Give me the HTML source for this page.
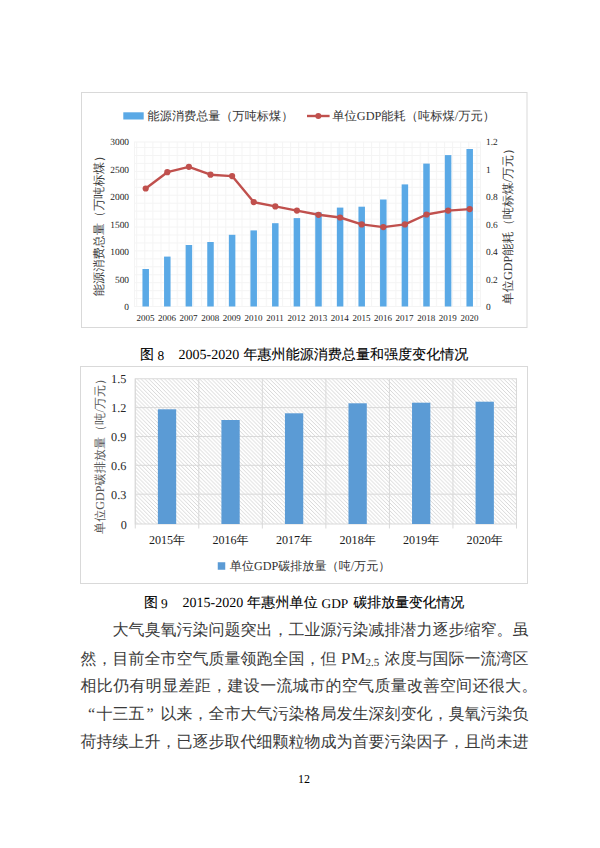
<!DOCTYPE html>
<html><head><meta charset="utf-8">
<style>
html,body{margin:0;padding:0;background:#fff;}
body{width:600px;height:848px;position:relative;overflow:hidden;text-rendering:geometricPrecision;font-family:"Liberation Serif",serif;color:#000;}
.abs{position:absolute;white-space:nowrap;}
svg{position:absolute;left:0;top:0;}
svg text{font-family:"Liberation Serif",serif;text-rendering:geometricPrecision;}
.c14{font-size:14px;line-height:20px;color:#000;-webkit-text-stroke:0.12px #000;}
.c13{font-size:13.4px;line-height:20px;color:#000;}
.body{position:absolute;left:80.5px;font-size:16px;line-height:20px;color:#3a3a3a;white-space:nowrap;}
.q{display:inline-block;width:16px;letter-spacing:0;}
.lat{font-size:17px;}
</style></head><body>

<svg width="600" height="848" viewBox="0 0 600 848">
  <defs>
    <pattern id="grid1" x="136.2" y="139.1" width="8.1" height="7.95" patternUnits="userSpaceOnUse">
      <path d="M0 0.5H8.1M0.5 0V7.95" stroke="#f4f4f4" stroke-width="1" fill="none"/>
    </pattern>
    <pattern id="hatch" x="0" y="0" width="3.9" height="3.9" patternUnits="userSpaceOnUse">
      <path d="M-1 -1L4.9 4.9M-1 2.9L1 4.9M2.9 -1L4.9 1" stroke="#d2d2d2" stroke-width="0.9" fill="none"/>
    </pattern>
  </defs>

  <!-- ===== Chart 1 ===== -->
  <rect x="81.5" y="92.5" width="445.5" height="235" fill="#fff" stroke="#d9d9d9" stroke-width="1"/>
  <rect x="134.5" y="142" width="346" height="164.5" fill="url(#grid1)" stroke="#f4f4f4" stroke-width="1"/>
  <!-- legend -->
  <rect x="123.3" y="112.3" width="20.4" height="7.2" fill="#5aa9e6"/>
  <text x="147.6" y="120.2" font-size="12.15" fill="#333">能源消费总量（万吨标煤）</text>
  <line x1="307" y1="116" x2="329.6" y2="116" stroke="#c0504d" stroke-width="2.4"/>
  <circle cx="318.3" cy="116" r="3" fill="#c0504d"/>
  <text x="332.3" y="120.2" font-size="12.25" fill="#333">单位GDP能耗（吨标煤/万元）</text>
  <!-- left axis labels -->
  <g font-size="9.4" fill="#262626" text-anchor="end">
    <text x="129" y="145.3">3000</text>
    <text x="129" y="172.8">2500</text>
    <text x="129" y="200.3">2000</text>
    <text x="129" y="227.8">1500</text>
    <text x="129" y="255.3">1000</text>
    <text x="129" y="282.8">500</text>
    <text x="129" y="310.3">0</text>
  </g>
  <g font-size="9.4" fill="#262626" text-anchor="start">
    <text x="486" y="145.3">1.2</text>
    <text x="486" y="172.8">1</text>
    <text x="486" y="200.3">0.8</text>
    <text x="486" y="227.8">0.6</text>
    <text x="486" y="255.3">0.4</text>
    <text x="486" y="282.8">0.2</text>
    <text x="486" y="310.3">0</text>
  </g>
  <text transform="translate(103,223) rotate(-90)" text-anchor="middle" font-size="12.2" fill="#404040">能源消费总量（万吨标煤）</text>
  <text transform="translate(512.3,223.5) rotate(-90)" text-anchor="middle" font-size="12.2" fill="#404040">单位GDP能耗（吨标煤/万元）</text>
  <!-- bars -->
  <g fill="#5aa9e6">
    <rect x="142.45" y="269.0" width="6.5" height="37.5"/>
    <rect x="164.05" y="256.6" width="6.5" height="49.9"/>
    <rect x="185.65" y="245.0" width="6.5" height="61.5"/>
    <rect x="207.25" y="242.0" width="6.5" height="64.5"/>
    <rect x="228.85" y="234.8" width="6.5" height="71.7"/>
    <rect x="250.45" y="230.4" width="6.5" height="76.1"/>
    <rect x="272.05" y="223.2" width="6.5" height="83.3"/>
    <rect x="293.65" y="218.1" width="6.5" height="88.4"/>
    <rect x="315.25" y="212.4" width="6.5" height="94.1"/>
    <rect x="336.85" y="207.6" width="6.5" height="98.9"/>
    <rect x="358.45" y="206.7" width="6.5" height="99.8"/>
    <rect x="380.05" y="199.5" width="6.5" height="107.0"/>
    <rect x="401.65" y="184.4" width="6.5" height="122.1"/>
    <rect x="423.25" y="163.6" width="6.5" height="142.9"/>
    <rect x="444.85" y="155.1" width="6.5" height="151.4"/>
    <rect x="466.45" y="149.0" width="6.5" height="157.5"/>
  </g>
  <!-- x labels -->
  <g font-size="9" fill="#262626" text-anchor="middle">
    <text x="145.40" y="321">2005</text>
    <text x="167.00" y="321">2006</text>
    <text x="188.60" y="321">2007</text>
    <text x="210.20" y="321">2008</text>
    <text x="231.80" y="321">2009</text>
    <text x="253.40" y="321">2010</text>
    <text x="275.00" y="321">2011</text>
    <text x="296.60" y="321">2012</text>
    <text x="318.20" y="321">2013</text>
    <text x="339.80" y="321">2014</text>
    <text x="361.40" y="321">2015</text>
    <text x="383.00" y="321">2016</text>
    <text x="404.60" y="321">2017</text>
    <text x="426.20" y="321">2018</text>
    <text x="447.80" y="321">2019</text>
    <text x="469.40" y="321">2020</text>
  </g>
  <polyline points="145.70,188.5 167.30,172.2 188.90,166.8 210.50,174.7 232.10,176.1 253.70,202.1 275.30,206.4 296.90,210.6 318.50,214.8 340.10,217.5 361.70,224.4 383.30,227.1 404.90,224.4 426.50,214.5 448.10,210.6 469.70,209.1" fill="none" stroke="#c0504d" stroke-width="2.4" stroke-linejoin="round"/>
  <g fill="#c0504d">
    <circle cx="145.70" cy="188.5" r="3.1"/>
    <circle cx="167.30" cy="172.2" r="3.1"/>
    <circle cx="188.90" cy="166.8" r="3.1"/>
    <circle cx="210.50" cy="174.7" r="3.1"/>
    <circle cx="232.10" cy="176.1" r="3.1"/>
    <circle cx="253.70" cy="202.1" r="3.1"/>
    <circle cx="275.30" cy="206.4" r="3.1"/>
    <circle cx="296.90" cy="210.6" r="3.1"/>
    <circle cx="318.50" cy="214.8" r="3.1"/>
    <circle cx="340.10" cy="217.5" r="3.1"/>
    <circle cx="361.70" cy="224.4" r="3.1"/>
    <circle cx="383.30" cy="227.1" r="3.1"/>
    <circle cx="404.90" cy="224.4" r="3.1"/>
    <circle cx="426.50" cy="214.5" r="3.1"/>
    <circle cx="448.10" cy="210.6" r="3.1"/>
    <circle cx="469.70" cy="209.1" r="3.1"/>
  </g>

  <!-- ===== Chart 2 ===== -->
  <rect x="80.5" y="366.5" width="447" height="217" fill="#fff" stroke="#d9d9d9" stroke-width="1"/>
  <rect x="135.25" y="378.75" width="381.25" height="145.25" fill="url(#hatch)"/>
  <g stroke="#d9d9d9" stroke-width="1" fill="none">
    <line x1="135.25" y1="407.6" x2="516.5" y2="407.6"/>
    <line x1="135.25" y1="436.5" x2="516.5" y2="436.5"/>
    <line x1="135.25" y1="465.3" x2="516.5" y2="465.3"/>
    <line x1="135.25" y1="494.2" x2="516.5" y2="494.2"/>
    <rect x="135.25" y="378.75" width="381.25" height="145.25"/>
    <line x1="135.25" y1="378.75" x2="135.25" y2="528.5"/>
    <line x1="198.79" y1="378.75" x2="198.79" y2="528.5"/>
    <line x1="262.33" y1="378.75" x2="262.33" y2="528.5"/>
    <line x1="325.87" y1="378.75" x2="325.87" y2="528.5"/>
    <line x1="389.41" y1="378.75" x2="389.41" y2="528.5"/>
    <line x1="452.95" y1="378.75" x2="452.95" y2="528.5"/>
    <line x1="516.49" y1="378.75" x2="516.49" y2="528.5"/>
  </g>
  <g fill="#5b9bd5">
    <rect x="157.87" y="409.3" width="18.3" height="114.7"/>
    <rect x="221.41" y="420.0" width="18.3" height="104.0"/>
    <rect x="284.95" y="413.3" width="18.3" height="110.7"/>
    <rect x="348.49" y="403.3" width="18.3" height="120.7"/>
    <rect x="412.03" y="402.7" width="18.3" height="121.3"/>
    <rect x="475.57" y="401.7" width="18.3" height="122.3"/>
  </g>
  <g font-size="12.2" fill="#262626" text-anchor="end">
    <text x="126.3" y="382.5">1.5</text>
    <text x="126.3" y="411.7">1.2</text>
    <text x="126.3" y="440.9">0.9</text>
    <text x="126.3" y="470.2">0.6</text>
    <text x="126.3" y="499.4">0.3</text>
    <text x="126.8" y="528.6">0</text>
  </g>
  <text transform="translate(104,453.4) rotate(-90)" text-anchor="middle" font-size="12.15" fill="#595959">单位GDP碳排放量（吨/万元）</text>
  <g font-size="12.1" fill="#1a1a1a" text-anchor="middle">
    <text x="167.02" y="544">2015年</text>
    <text x="230.56" y="544">2016年</text>
    <text x="294.10" y="544">2017年</text>
    <text x="357.64" y="544">2018年</text>
    <text x="421.18" y="544">2019年</text>
    <text x="484.72" y="544">2020年</text>
  </g>
  <rect x="217.75" y="562.25" width="7.5" height="7.5" fill="#5b9bd5"/>
  <text x="229.8" y="570.4" font-size="12.1" fill="#333">单位GDP碳排放量（吨/万元）</text>
</svg>

<div class="abs c14" style="left:140px;top:346px;">图</div>
<div class="abs c13" style="left:157.5px;top:346px;">8</div>
<div class="abs c13" style="left:178.5px;top:345.5px;font-size:14px">2005-2020</div>
<div class="abs c14" style="left:243.5px;top:346px;letter-spacing:0.05px">年惠州能源消费总量和强度变化情况</div>

<div class="abs c14" style="left:144px;top:593.8px;">图</div>
<div class="abs c13" style="left:161px;top:594px;">9</div>
<div class="abs c13" style="left:182.5px;top:593.5px;font-size:14px">2015-2020</div>
<div class="abs c14" style="left:247px;top:593.8px;letter-spacing:0.2px">年惠州单位</div>
<div class="abs c13" style="left:321.5px;top:594px;">GDP</div>
<div class="abs c14" style="left:353.5px;top:593.8px;letter-spacing:-0.18px">碳排放量变化情况</div>

<div class="body" style="top:621px;"><span class="q" style="width:32px"></span>大气臭氧污染问题突出，工业源污染减排潜力逐步缩窄。虽</div>
<div class="body" style="top:649px;">然，目前全市空气质量领跑全国，但<span class="q" style="width:43.5px;padding-left:4.5px"><span class="lat">PM</span><span class="lat" style="font-size:11px;vertical-align:-2px">2.5</span></span>浓度与国际一流湾区</div>
<div class="body" style="top:677px;letter-spacing:0.33px">相比仍有明显差距，建设一流城市的空气质量改善空间还很大。</div>
<div class="body" style="top:705px;"><span class="q" style="text-align:right;padding-right:1.5px;width:14.5px">“</span>十三五<span class="q" style="padding-left:2px;width:14px">”</span>以来，全市大气污染格局发生深刻变化，臭氧污染负</div>
<div class="body" style="top:733px;">荷持续上升，已逐步取代细颗粒物成为首要污染因子，且尚未进</div>

<div class="abs" style="left:298px;top:772px;font-size:12px;">12</div>


</body></html>
